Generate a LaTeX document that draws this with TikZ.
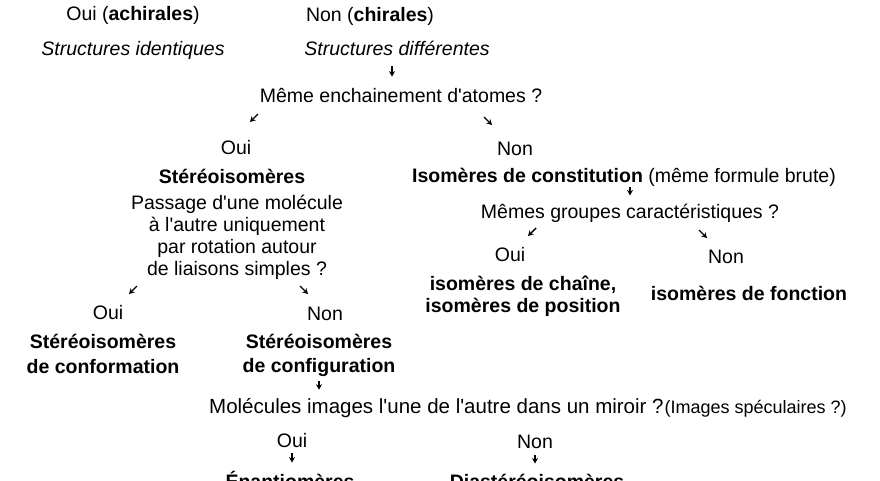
\documentclass[tikz,border=0pt]{standalone}
\usepackage{fontspec}
\setmainfont{Liberation Sans}[Ligatures=TeXOff]
\usetikzlibrary{arrows.meta}

\begin{document}
\begin{tikzpicture}[x=1pt, y=-1pt,
  txt/.style={inner sep=0pt, anchor=base, align=center, font=\fontsize{19.5}{22}\selectfont},
  gras/.style={txt, font=\fontsize{19.5}{22}\selectfont\bfseries},
  pointe/.style={-{Stealth[length=5.5pt,width=6pt]}, line width=1.4pt}]
  \useasboundingbox (0,0) rectangle (880,480);
  \clip (0,0) rectangle (880,480);

  % Chiralite
  \node[txt] (achir) at (133,20) {Oui (\textbf{achirales})};
  \node[txt] (chir) at (370,21) {Non (\textbf{chirales})};
  \node[txt, font=\fontsize{19.5}{22}\selectfont\itshape] (ident) at (133,55) {Structures identiques};
  \node[txt, font=\fontsize{19.5}{22}\selectfont\itshape] (diff) at (397,55) {Structures différentes};

  % Enchainement
  \node[txt] (ench) at (401,102) {Même enchainement d'atomes ?};
  \draw[pointe, shorten <=11pt, shorten >=11pt] ([xshift=-5pt]diff.south) -- ([xshift=-5pt]diff.south |- ench.north);
  \coordinate (g1) at (258,114);
  \coordinate (d1) at (484,117);
  \draw[pointe] (g1) -- ++(-8,8);
  \draw[pointe] (d1) -- ++(8,8);
  \node[txt] (oui1) at (236,154) {Oui};
  \node[txt] (non1) at (515,155) {Non};

  % Stereoisomeres
  \node[gras] (stereo) at (232,183) {Stéréoisomères};
  \node[txt, font=\fontsize{19.5}{21.7}\selectfont] (rot) at (237,275)
    {Passage d'une molécule\\à l'autre uniquement\\par rotation autour\\de liaisons simples ?};
  \coordinate (g2) at (137,286);
  \coordinate (d2) at (300,286);
  \draw[pointe] (g2) -- ++(-8,8);
  \draw[pointe] (d2) -- ++(8,8);
  \node[txt] (oui2) at (108,319) {Oui};
  \node[txt] (non2) at (325,320) {Non};
  \node[gras, font=\fontsize{19.5}{24.5}\selectfont\bfseries] (conform) at (103,373) {Stéréoisomères\\de conformation};
  \node[gras, font=\fontsize{19.5}{24}\selectfont\bfseries] (config) at (319,372) {Stéréoisomères\\de configuration};

  % Isomeres de constitution
  \node[txt] (const) at (624,182) {\textbf{Isomères de constitution} (même formule brute)};
  \node[txt] (grp) at (630,218) {Mêmes groupes caractéristiques ?};
  \draw[pointe, shorten <=1pt, shorten >=8pt] (grp.north |- const.south) -- (grp.north);
  \coordinate (g3) at (536,228);
  \coordinate (d3) at (699,230);
  \draw[pointe] (g3) -- ++(-8,8);
  \draw[pointe] (d3) -- ++(8,8);
  \node[txt] (oui3) at (510,261) {Oui};
  \node[txt] (non3) at (726,263) {Non};
  \node[gras] (chaine) at (523,312) {isomères de chaîne,\\isomères de position};
  \node[gras] (fonct) at (749,300) {isomères de fonction};

  % Images speculaires
  \node[txt, anchor=base west] (miroir) at (209,413)
    {{\fontsize{20.5}{22}\selectfont Molécules images l'une de l'autre dans un miroir ?}\kern1pt{\fontsize{18}{22}\selectfont(Images spéculaires ?)}};
  \draw[pointe, shorten <=5pt, shorten >=8pt] (config.south) -- (config.south |- miroir.north);
  \node[txt] (oui4) at (292,447) {Oui};
  \node[txt] (non4) at (535,448) {Non};
  \node[gras] (enant) at (290,488) {Énantiomères};
  \node[gras] (diast) at (537,488) {Diastéréoisomères};
  \draw[pointe, shorten <=6pt, shorten >=8pt] (oui4.south) -- (oui4.south |- enant.north);
  \draw[pointe, shorten <=7pt, shorten >=10pt] (non4.south) -- (non4.south |- diast.north);
\end{tikzpicture}
\end{document}
